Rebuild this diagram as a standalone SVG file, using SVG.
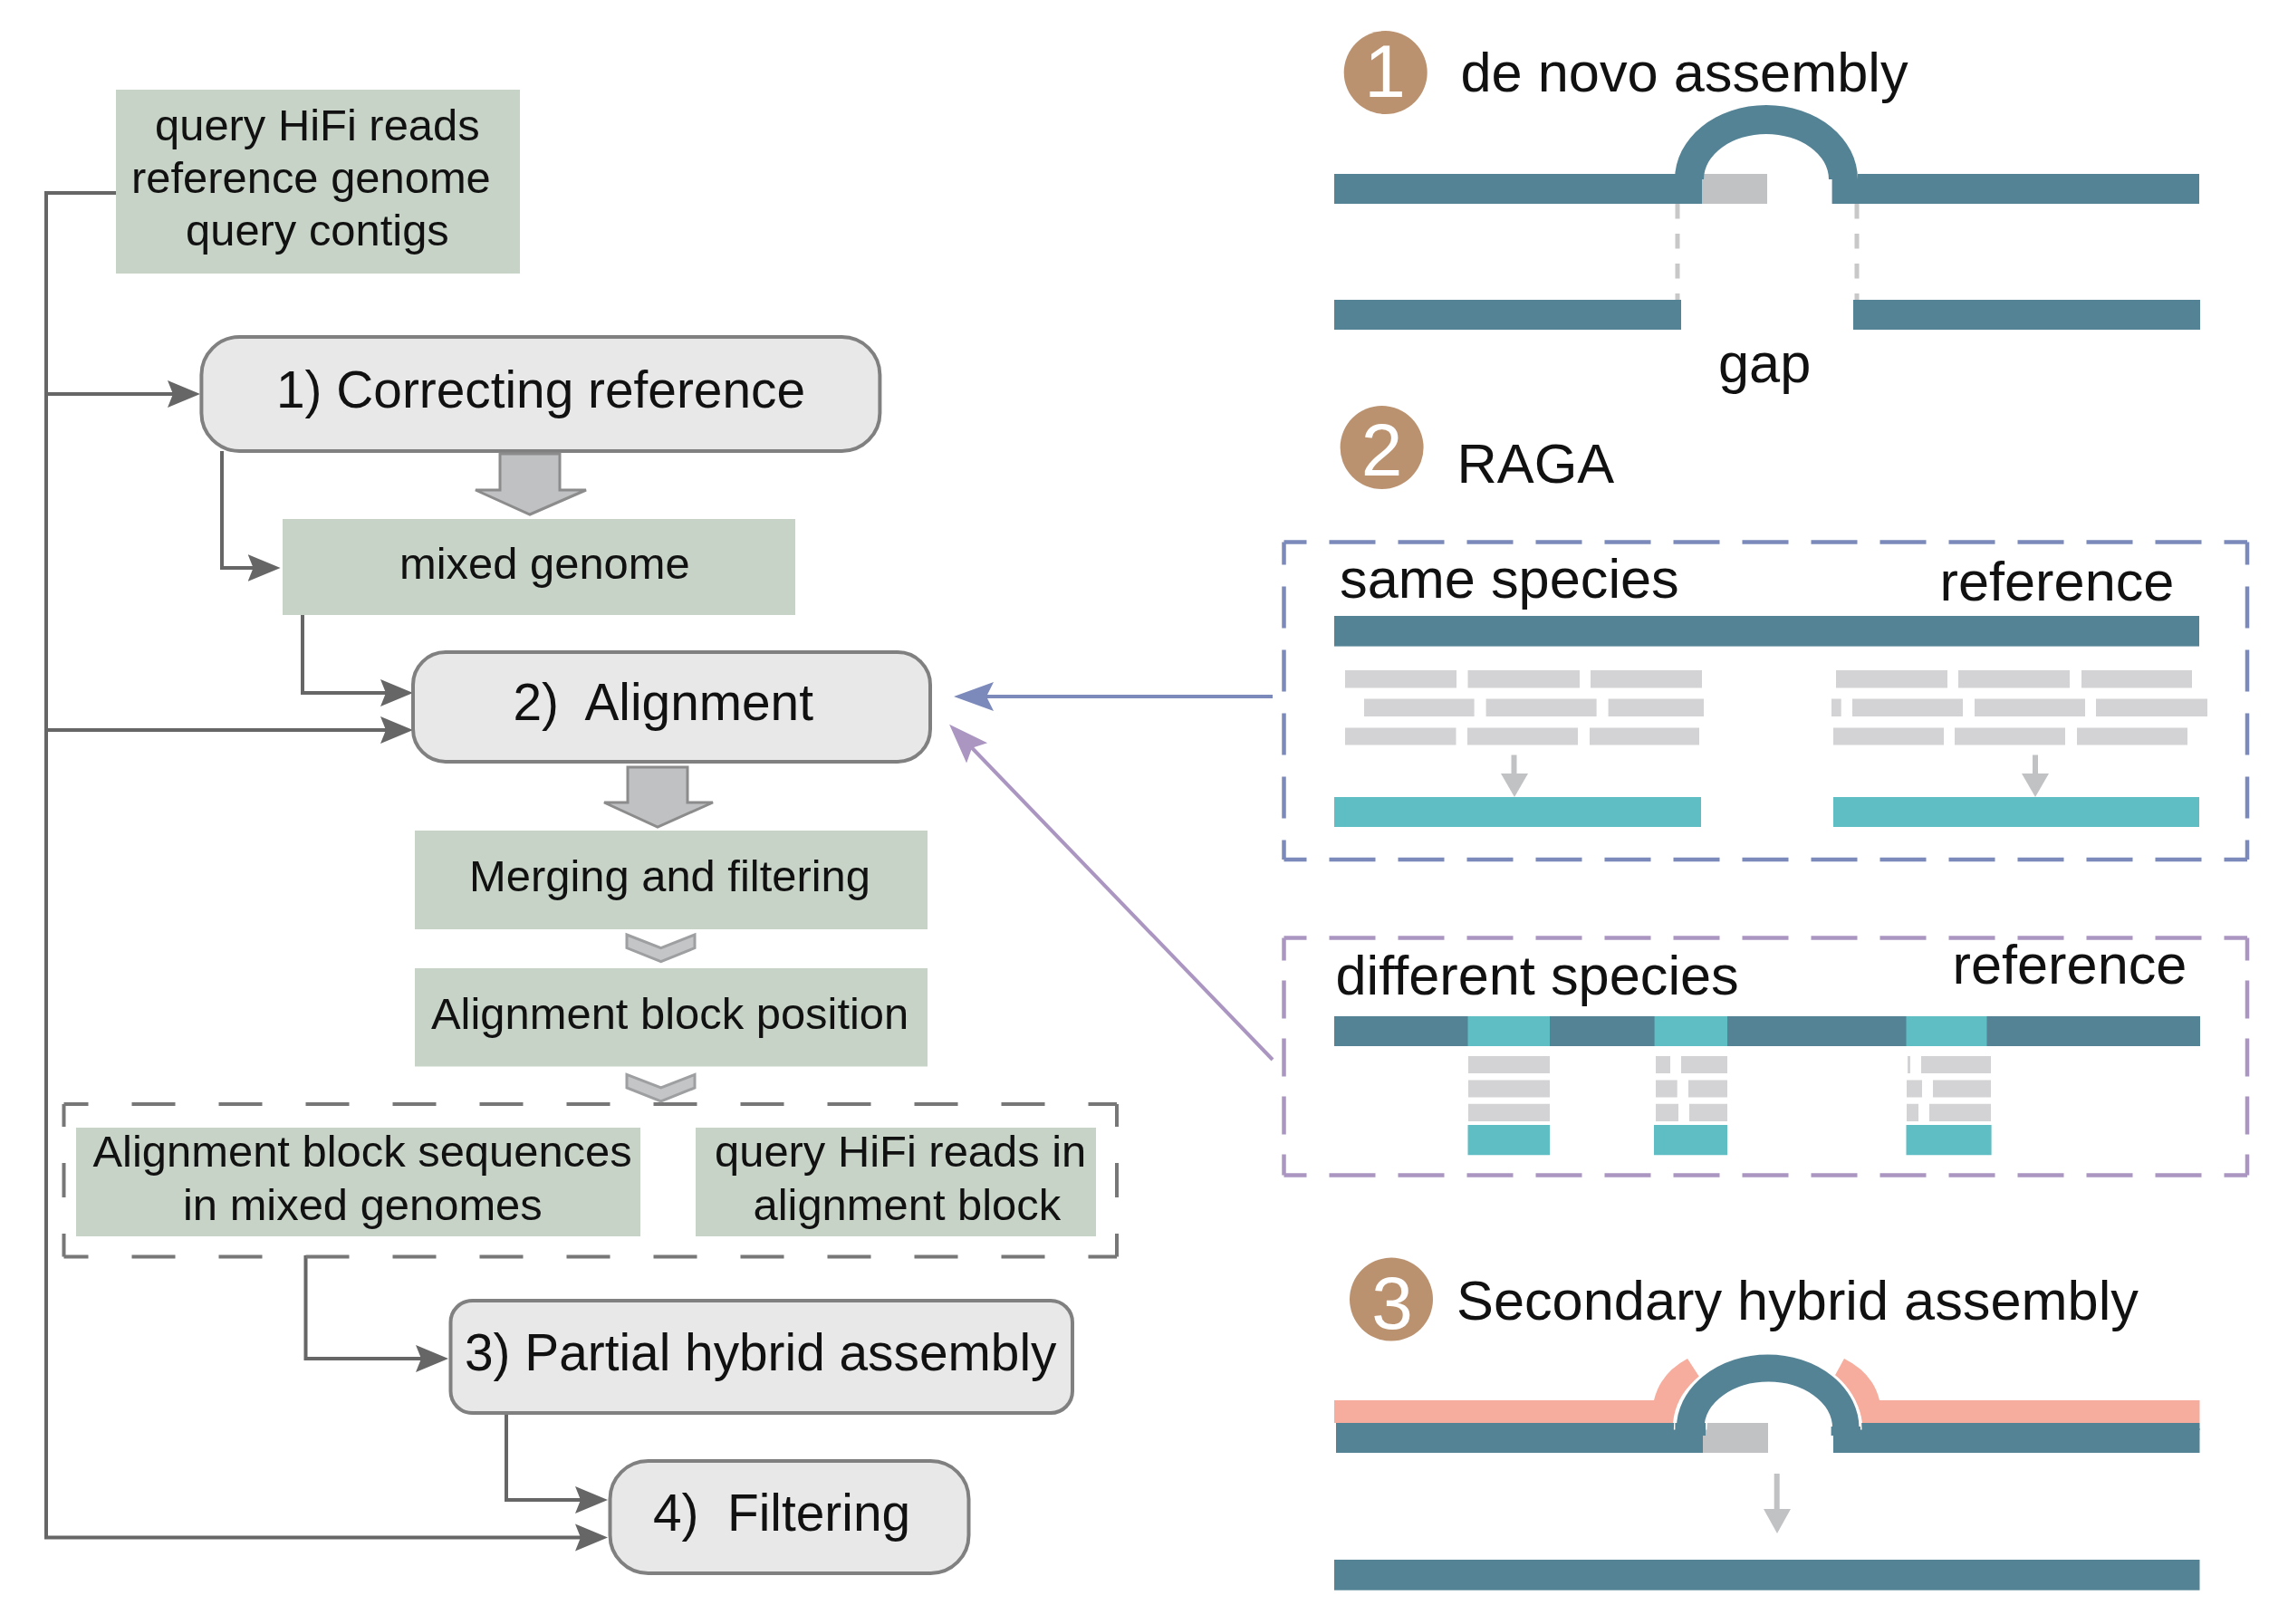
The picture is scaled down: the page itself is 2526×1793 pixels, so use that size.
<svg xmlns="http://www.w3.org/2000/svg" width="2526" height="1793" viewBox="0 0 2526 1793">
<style>
text{font-family:"Liberation Sans",Arial,sans-serif;fill:#111}
.s48{font-size:48.900px}.s57{font-size:56.800px}.s61{font-size:61.300px}
.num{font-size:82px;fill:#fff;text-anchor:middle}
.sage{fill:#c7d3c7}
.round{fill:#e8e8e8;stroke:#808080;stroke-width:4}
.conn{fill:none;stroke:#666;stroke-width:4}
.big{fill:#bfc1c3;stroke:#8c8c8c;stroke-width:3}
.chev{fill:#c3c5c7;stroke:#9d9fa1;stroke-width:3}
.dk{fill:#548396}.lt{fill:#5fbdc4}.gy{fill:#c1c2c4}.rd{fill:#d3d3d5}.pk{fill:#f6ad9e}.br{fill:#bb9270}
.dg{fill:none;stroke:#777;stroke-width:4}
.db{fill:none;stroke:#7b89bb;stroke-width:4.500}
.dp{fill:none;stroke:#ab95c1;stroke-width:4.500}
.dd{fill:none;stroke:#c8c8c8;stroke-width:5;stroke-dasharray:16.5 16.5}
.small{fill:none;stroke:#c1c2c4;stroke-width:6}
</style>
<defs>
<marker id="ag" markerUnits="userSpaceOnUse" markerWidth="40" markerHeight="32" refX="26" refY="16" orient="auto"><path d="M0 1L36 16L0 31L6 16Z" fill="#666"/></marker>
<marker id="ab" markerUnits="userSpaceOnUse" markerWidth="48" markerHeight="34" refX="34" refY="17" orient="auto"><path d="M0 1L44 17L0 33L8 17Z" fill="#7b89bb"/></marker>
<marker id="ap" markerUnits="userSpaceOnUse" markerWidth="48" markerHeight="34" refX="34" refY="17" orient="auto"><path d="M0 1L44 17L0 33L8 17Z" fill="#ab95c1"/></marker>
</defs>

<g id="connectors">
<path class="conn" marker-end="url(#ag)" d="M132.600 213H51V1697.500H661"/>
<path class="conn" marker-end="url(#ag)" d="M51 435H211"/>
<path class="conn" marker-end="url(#ag)" d="M51 806H446"/>
<path class="conn" marker-end="url(#ag)" d="M245 498V627H299.600"/>
<path class="conn" marker-end="url(#ag)" d="M334 677V765H446"/>
<path class="conn" marker-end="url(#ag)" d="M337.500 1386V1500H485"/>
<path class="conn" marker-end="url(#ag)" d="M559 1557V1656H661"/>
<path fill="none" stroke="#7b89bb" stroke-width="4" marker-end="url(#ab)" d="M1405 769H1063"/>
<path fill="none" stroke="#ab95c1" stroke-width="4" marker-end="url(#ap)" d="M1405 1170L1055 807"/>
</g>

<g id="node-inputs"><rect class="sage" x="128" y="99" width="446" height="203"/>
<text class="s48" x="171" y="155">query HiFi reads</text>
<text class="s48" x="145" y="212.500">reference genome</text>
<text class="s48" x="205" y="271">query contigs</text></g>

<g id="node-correcting"><rect class="round" x="222.400" y="372" width="749" height="126" rx="42"/>
<text class="s57" x="305" y="450">1) Correcting reference</text></g>

<g id="arrow-a"><path class="big" d="M552 501H618V541H647L585 568L525 541H552Z"/></g>

<g id="node-mixed"><rect class="sage" x="312" y="573" width="566" height="106"/>
<text class="s48" x="441" y="639">mixed genome</text></g>

<g id="node-alignment"><rect class="round" x="456" y="720" width="571" height="121" rx="36"/>
<text class="s57" x="566.500" y="795" xml:space="preserve">2)  Alignment</text></g>

<g id="arrow-b"><path class="big" d="M693 847H759V886H787L726 913L667 886H693Z"/></g>

<g id="node-merging"><rect class="sage" x="458" y="917" width="566" height="109"/>
<text class="s48" x="518" y="983.500">Merging and filtering</text></g>

<g id="chevron-a"><path class="chev" d="M692 1032L729.700 1046.600L767 1032V1046.600L729.700 1061.600L692 1046.600Z"/></g>

<g id="node-position"><rect class="sage" x="458" y="1069" width="566" height="108.500"/>
<text class="s48" x="476" y="1135.500">Alignment block position</text></g>

<g id="block-group">
<path class="dg" stroke-dasharray="48 48" stroke-dashoffset="21" d="M70.500 1219H1233"/>
<path class="dg" stroke-dasharray="48 48" stroke-dashoffset="21" d="M70.500 1387.500H1233"/>
<path class="dg" stroke-dasharray="38 40" stroke-dashoffset="13" d="M70.500 1219V1387.500"/>
<path class="dg" stroke-dasharray="38 40" stroke-dashoffset="13" d="M1233 1219V1387.500"/>
</g>

<g id="chevron-b"><path class="chev" d="M692 1186.400L729.700 1201L767 1186.400V1201L729.700 1216L692 1201Z"/></g>

<g id="node-sequences"><rect class="sage" x="84" y="1245" width="623" height="120"/>
<text class="s48" x="102.500" y="1288">Alignment block sequences</text>
<text class="s48" x="202" y="1347">in mixed genomes</text></g>

<g id="node-reads"><rect class="sage" x="768" y="1245" width="442" height="120"/>
<text class="s48" x="789" y="1288">query HiFi reads in</text>
<text class="s48" x="831.500" y="1347">alignment block</text></g>

<g id="node-partial"><rect class="round" x="497.500" y="1436" width="686.500" height="124" rx="24"/>
<text class="s57" x="513" y="1512.500">3) Partial hybrid assembly</text></g>

<g id="node-filtering"><rect class="round" x="673.500" y="1613" width="396" height="124" rx="42"/>
<text class="s57" x="721" y="1689.500" xml:space="preserve">4)  Filtering</text></g>

<g id="panel-denovo">
<circle class="br" cx="1529.700" cy="80" r="46"/><text class="num" x="1529" y="107">1</text>
<text class="s61" x="1612.500" y="100.500">de novo assembly</text>
<path class="dd" d="M1852 225V331"/><path class="dd" d="M2050 225V331"/>
<rect class="dk" x="1473" y="192" width="406" height="33"/>
<rect class="gy" x="1879" y="192" width="72" height="33"/>
<rect class="dk" x="2022.600" y="198" width="405.400" height="27"/>
<rect class="dk" x="2051" y="192" width="377" height="8"/>
<path class="dk" d="M1849 198A101 82 0 0 1 2051 198H2019A69 50 0 0 0 1881 198Z"/>
<rect class="dk" x="1473" y="331" width="383" height="33"/>
<rect class="dk" x="2046" y="331" width="383" height="33"/>
<text class="s61" x="1897" y="422">gap</text>
</g>

<g id="panel-raga-title">
<circle class="br" cx="1525.600" cy="494" r="46"/><text class="num" x="1525.600" y="525">2</text>
<text class="s61" x="1608.500" y="532.500">RAGA</text>
</g>

<g id="panel-same">
<path class="db" stroke-dasharray="51 25" stroke-dashoffset="26" d="M1417.500 598.500H2481"/>
<path class="db" stroke-dasharray="51 25" stroke-dashoffset="26" d="M1417.500 949H2481"/>
<path class="db" stroke-dasharray="46 24" stroke-dashoffset="21" d="M1417.500 598.500V949"/>
<path class="db" stroke-dasharray="46 24" stroke-dashoffset="21" d="M2481 598.500V949"/>
<text class="s61" x="1479" y="660">same species</text>
<text class="s61" x="2141.500" y="663">reference</text>
<rect class="dk" x="1473" y="680" width="955" height="33.600"/>
<path class="rd" d="M1485 740H1608V759.600H1485ZM1620.500 740H1744V759.600H1620.500ZM1756 740H1879V759.600H1756ZM2027 740H2150V759.600H2027ZM2162 740H2285V759.600H2162ZM2298 740H2420V759.600H2298Z"/>
<path class="rd" d="M1506 771.500H1627.600V791H1506ZM1640.600 771.500H1762.600V791H1640.600ZM1775.600 771.500H1881V791H1775.600ZM2022 771.500H2032.700V791H2022ZM2045 771.500H2167V791H2045ZM2180 771.500H2302V791H2180ZM2314 771.500H2437V791H2314Z"/>
<path class="rd" d="M1485 803.500H1607.500V822.500H1485ZM1620 803.500H1742V822.500H1620ZM1755 803.500H1876V822.500H1755ZM2024 803.500H2146V822.500H2024ZM2158 803.500H2280V822.500H2158ZM2293 803.500H2415V822.500H2293Z"/>
<path class="small" d="M1671.500 833.500V856"/><path class="gy" d="M1657 854H1687L1672 880Z"/>
<path class="small" d="M2247 833.500V856"/><path class="gy" d="M2232 854H2262L2247 880Z"/>
<rect class="lt" x="1473" y="880" width="405" height="33"/>
<rect class="lt" x="2024" y="880" width="404" height="33"/>
</g>

<g id="panel-different">
<path class="dp" stroke-dasharray="51 25" stroke-dashoffset="26" d="M1417.500 1035.400H2481"/>
<path class="dp" stroke-dasharray="51 25" stroke-dashoffset="26" d="M1417.500 1297.500H2481"/>
<path class="dp" stroke-dasharray="42 22" stroke-dashoffset="17" d="M1417.500 1035.400V1297.500"/>
<path class="dp" stroke-dasharray="42 22" stroke-dashoffset="17" d="M2481 1035.400V1297.500"/>
<text class="s61" x="1474.500" y="1098">different species</text>
<text class="s61" x="2155.500" y="1086">reference</text>
<rect class="dk" x="1473" y="1122" width="956" height="33"/>
<path class="lt" d="M1620.500 1122H1711V1155H1620.500ZM1826.600 1122H1907V1155H1826.600ZM2104.500 1122H2193.500V1155H2104.500Z"/>
<path class="rd" d="M1621 1166H1711V1185H1621ZM1621 1192.500H1711V1211.600H1621ZM1621 1218.700H1711V1238H1621Z"/>
<path class="rd" d="M1828 1166H1844V1185H1828ZM1856 1166H1907V1185H1856ZM1828 1192.500H1851.700V1211.600H1828ZM1864 1192.500H1907V1211.600H1864ZM1828 1218.700H1853V1238H1828ZM1865 1218.700H1907V1238H1865Z"/>
<path class="rd" d="M2106 1166H2109V1185H2106ZM2121 1166H2198V1185H2121ZM2105 1192.500H2122V1211.600H2105ZM2134 1192.500H2198V1211.600H2134ZM2105 1218.700H2118V1238H2105ZM2130 1218.700H2198V1238H2130Z"/>
<path class="lt" d="M1620.500 1242H1711V1275.200H1620.500ZM1826 1242H1907V1275.200H1826ZM2104.500 1242H2198.600V1275.200H2104.500Z"/>
</g>

<g id="panel-secondary">
<circle class="br" cx="1536" cy="1434.600" r="46"/><text class="num" x="1537" y="1467">3</text>
<text class="s61" x="1608" y="1456.700">Secondary hybrid assembly</text>
<rect class="pk" x="1473" y="1546" width="374" height="25"/>
<rect class="pk" x="2056" y="1546" width="372.500" height="25"/>
<path class="pk" d="M1826 1546Q1833 1516 1863 1500L1876 1520Q1850 1540 1847 1571H1826Z"/>
<path class="pk" d="M2075 1546Q2068 1516 2036 1500L2025 1520Q2052 1540 2056 1571H2075Z"/>
<rect class="dk" x="1475" y="1571" width="405" height="33"/>
<rect class="gy" x="1880" y="1571" width="72" height="33"/>
<rect class="dk" x="2024" y="1577" width="404.500" height="27"/>
<rect class="dk" x="2054" y="1571" width="374.500" height="8"/>
<path class="dk" stroke="#fff" stroke-width="3" d="M1849.400 1577A102.300 83 0 0 1 2054 1577H2021.600A69.300 50 0 0 0 1883 1577Z"/>
<path class="dk" d="M1849.400 1571H1883V1585H1849.400ZM2021.600 1575H2054V1585H2021.600Z"/>
<path class="small" d="M1961.700 1627V1668"/><path class="gy" d="M1947 1666H1977L1962 1693Z"/>
<rect class="dk" x="1473" y="1722" width="955.500" height="33.700"/>
</g>
</svg>
